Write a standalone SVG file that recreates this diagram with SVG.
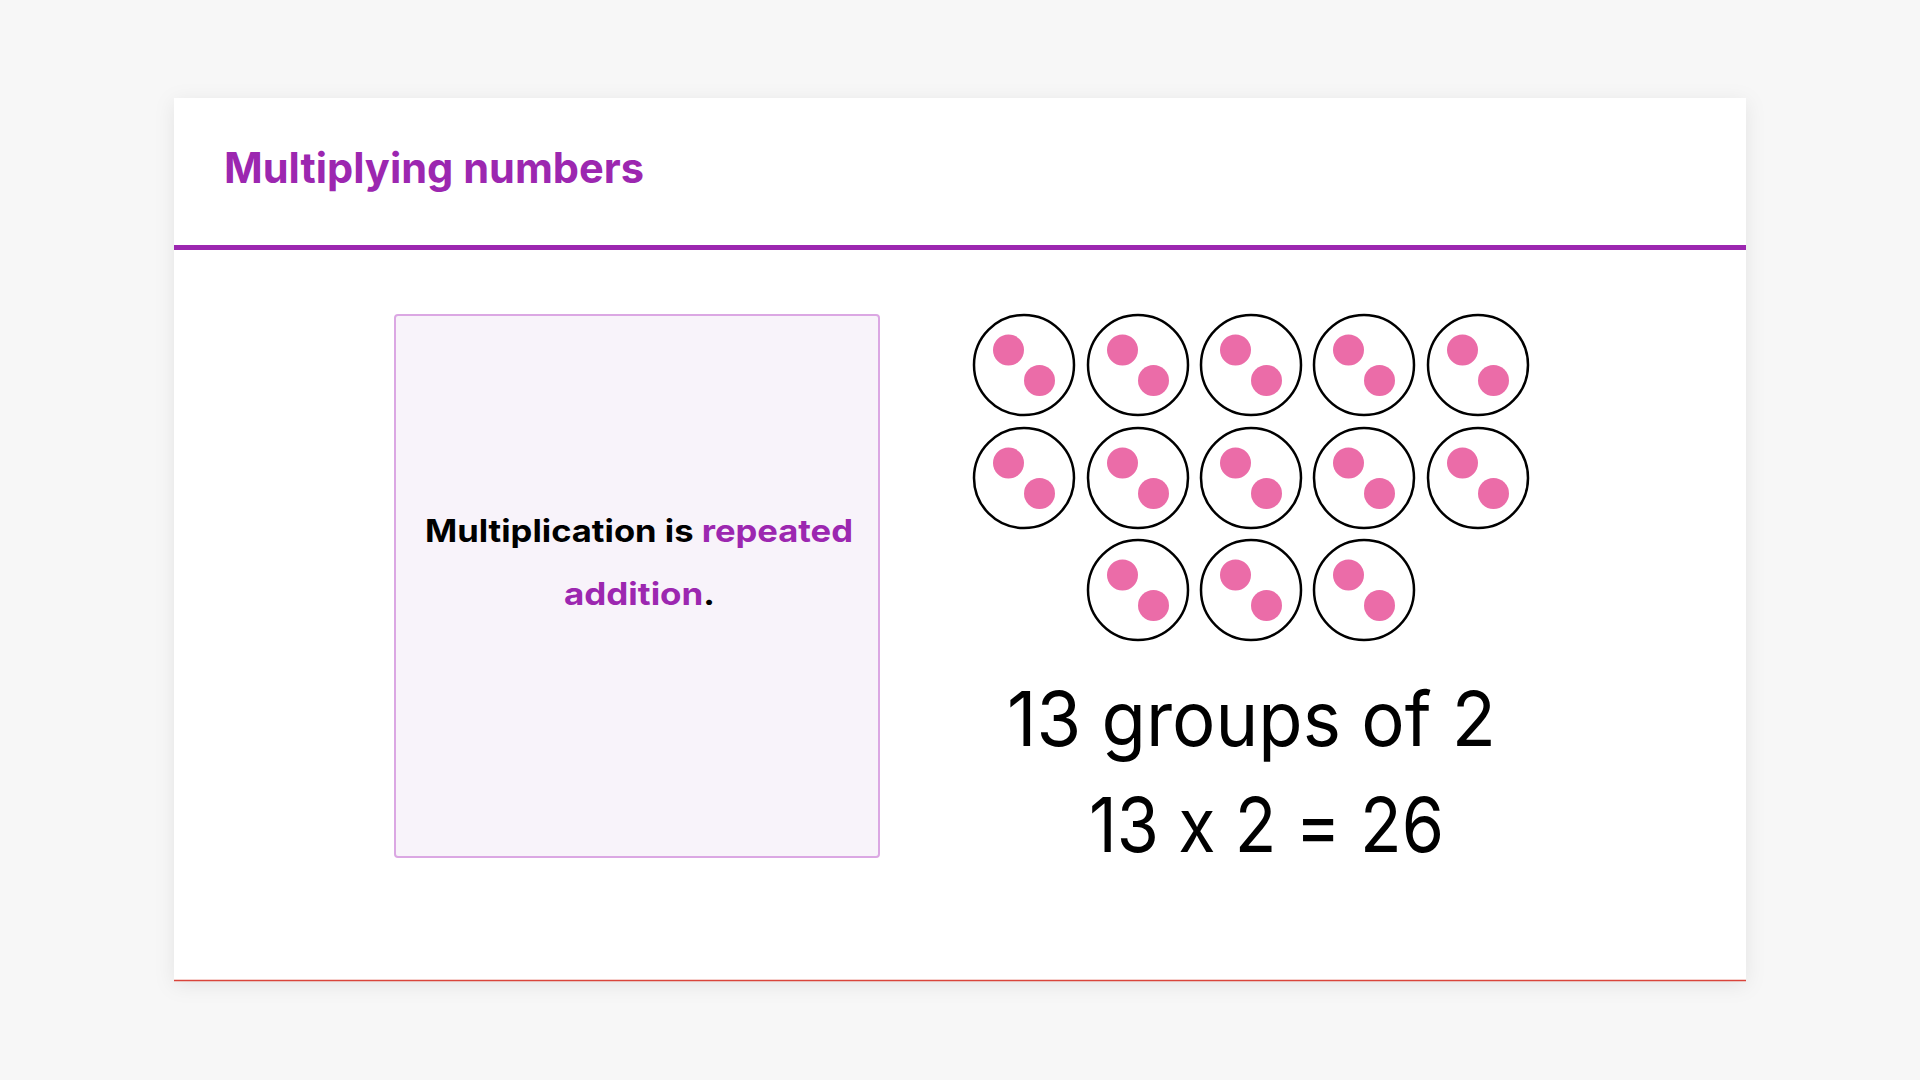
<svg xmlns="http://www.w3.org/2000/svg" width="1920" height="1080" viewBox="0 0 1920 1080">
  <style>
    text { font-feature-settings: "calt" 0; }
    .title { font-family: Inter, "Open Sans", "Liberation Sans", sans-serif; font-weight: 700; font-size: 42px; fill: #9c27b0; }
    .boxtext { font-family: Inter, "Open Sans", "Liberation Sans", sans-serif; font-weight: 700; font-size: 31px; fill: #000000; }
    .hl { fill: #9c27b0; }
    .big { font-family: Inter, "Open Sans", "Liberation Sans", sans-serif; font-weight: 400; font-size: 76px; fill: #000000; }
    .grp { fill: #ffffff; stroke: #000000; stroke-width: 2.5; }
    .dot { fill: #eb6ca8; }
  </style>
  <defs>
    <filter id="shadow" x="-5%" y="-5%" width="110%" height="115%">
      <feDropShadow dx="0" dy="4" stdDeviation="10" flood-color="#000000" flood-opacity="0.08"/>
    </filter>
    <g id="group2">
      <circle class="grp" cx="0" cy="0" r="50"/>
      <circle class="dot" cx="-15.5" cy="-15" r="15.5"/>
      <circle class="dot" cx="15.5" cy="15.5" r="15.5"/>
    </g>
  </defs>
  <rect x="0" y="0" width="1920" height="1080" fill="#f7f7f7"/>
  <g id="card">
    <rect x="174" y="98" width="1572" height="883" fill="#ffffff" filter="url(#shadow)"/>
    <line x1="174" y1="980.5" x2="1746" y2="980.5" stroke="#d9443a" stroke-width="1.5"/>
    <rect x="174" y="245" width="1572" height="5" fill="#9c27b0"/>
  </g>
  <g id="title">
    <text class="title" x="224" y="183" textLength="420" lengthAdjust="spacingAndGlyphs">Multiplying numbers</text>
  </g>
  <g id="definition-box">
    <rect x="395" y="315" width="484" height="542" rx="3" fill="#f8f3fa" stroke="#dba7e3" stroke-width="2"/>
    <text class="boxtext" x="425" y="542" textLength="428" lengthAdjust="spacingAndGlyphs">Multiplication is <tspan class="hl">repeated</tspan></text>
    <text class="boxtext" x="564" y="605" textLength="151" lengthAdjust="spacingAndGlyphs"><tspan class="hl">addition</tspan>.</text>
  </g>
  <g id="groups">
    <use href="#group2" x="1024" y="365"/>
    <use href="#group2" x="1138" y="365"/>
    <use href="#group2" x="1251" y="365"/>
    <use href="#group2" x="1364" y="365"/>
    <use href="#group2" x="1478" y="365"/>
    <use href="#group2" x="1024" y="478"/>
    <use href="#group2" x="1138" y="478"/>
    <use href="#group2" x="1251" y="478"/>
    <use href="#group2" x="1364" y="478"/>
    <use href="#group2" x="1478" y="478"/>
    <use href="#group2" x="1138" y="590"/>
    <use href="#group2" x="1251" y="590"/>
    <use href="#group2" x="1364" y="590"/>
  </g>
  <g id="caption">
    <text class="big" x="1007" y="746" textLength="489" lengthAdjust="spacingAndGlyphs">13 groups of 2</text>
    <text class="big" x="1089" y="852" textLength="355" lengthAdjust="spacingAndGlyphs">13 x 2 = 26</text>
  </g>
  <g id="connectors"/>
</svg>
